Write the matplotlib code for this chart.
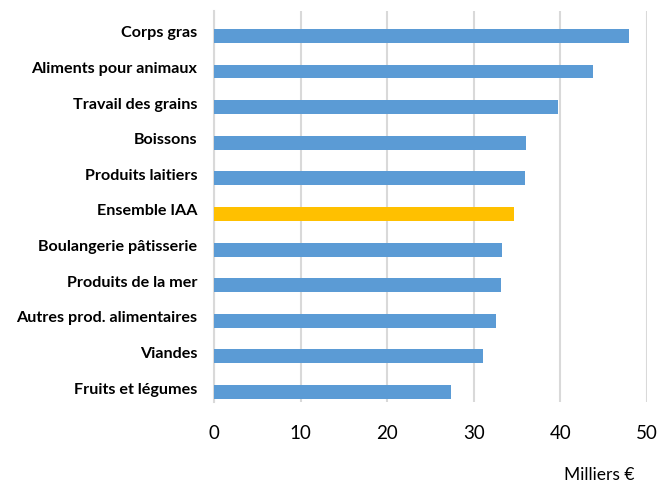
import matplotlib.pyplot as plt
import matplotlib.transforms as mtransforms

plt.rcParams['font.family'] = ['Lato', 'DejaVu Sans']

categories = ["Corps gras", "Aliments pour animaux", "Travail des grains", "Boissons",
              "Produits laitiers", "Ensemble IAA", "Boulangerie pâtisserie",
              "Produits de la mer", "Autres prod. alimentaires", "Viandes",
              "Fruits et légumes"]
values = [47.9, 43.8, 39.7, 36.0, 35.9, 34.6, 33.3, 33.1, 32.6, 31.1, 27.4]
highlight = "Ensemble IAA"

blue = '#5B9BD5'
gold = '#FFC000'
colors = [gold if c == highlight else blue for c in categories]

fig = plt.figure(figsize=(6.59, 4.85), dpi=100)
ax = fig.add_axes([0.3247, 0.1691, 0.6571, 0.8062])

y = range(len(categories))
ax.barh(y, values, height=0.39, color=colors, zorder=3)

ax.set_xlim(0, 50)
ax.set_ylim(len(categories) - 0.72, -0.70)
ax.set_xticks([0, 10, 20, 30, 40, 50])
ax.set_yticks(list(y))
ax.set_yticklabels(categories, fontweight='bold', fontsize=11.6, color='black')
ax.tick_params(axis='y', length=0, pad=12)
ax.tick_params(axis='x', length=0, pad=16, labelsize=13.5)

# labels sit a little above the bar centres in the original
shift = mtransforms.ScaledTranslation(0, 5 / 100, fig.dpi_scale_trans)
for lab in ax.get_yticklabels():
    lab.set_transform(lab.get_transform() + shift)

ax.grid(axis='x', color='#D9D9D9', linewidth=1.5, zorder=0)
ax.grid(axis='y', visible=False)
for s in ['top', 'right', 'bottom']:
    ax.spines[s].set_visible(False)
ax.spines['left'].set_color('#D9D9D9')
ax.spines['left'].set_linewidth(1.5)

fig.text(0.963, 0.004, "Milliers €", ha='right', va='bottom', fontsize=12.5)

fig.savefig('out.png', dpi=100)
